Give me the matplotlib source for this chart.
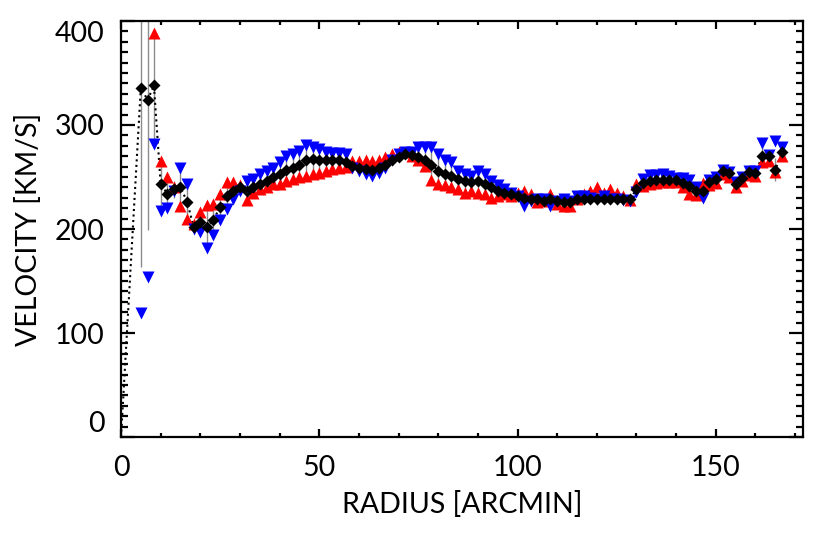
import numpy as np
import matplotlib
matplotlib.use("Agg")
import matplotlib.pyplot as plt
from matplotlib.ticker import MultipleLocator

# radius of each ring [arcmin]
radius = [5.0, 6.7, 8.3, 10.0, 11.7, 13.3, 15.0, 16.7, 18.3, 20.0,
          21.7, 23.3, 25.0, 26.7, 28.3, 30.0, 31.7, 33.3, 35.0, 36.7,
          38.3, 40.0, 41.7, 43.3, 45.0, 46.7, 48.3, 50.0, 51.7, 53.3,
          55.0, 56.7, 58.3, 60.0, 61.7, 63.3, 65.0, 66.7, 68.3, 70.0,
          71.7, 73.3, 75.0, 76.7, 78.3, 80.0, 81.7, 83.3, 85.0, 86.7,
          88.3, 90.0, 91.7, 93.3, 95.0, 96.7, 98.3, 100.0, 101.7, 103.3,
          105.0, 106.7, 108.3, 110.0, 111.7, 113.3, 115.0, 116.7, 118.3, 120.0,
          121.7, 123.3, 125.0, 126.7, 128.3, 130.0, 131.7, 133.3, 135.0, 136.7,
          138.3, 140.0, 141.7, 143.3, 145.0, 146.7, 148.3, 150.0, 151.7, 153.3,
          155.0, 156.7, 158.3, 160.0, 161.7, 163.3, 165.0, 166.7]

# both sides combined (black diamonds)
vel_mean = [336, 324, 338, 243, 234, 238, 240, 226, 202, 207,
            202, 209, 221, 232, 237, 240, 237, 240, 243, 246,
            250, 253, 257, 259, 262, 266, 267, 266, 266, 266,
            266, 264, 261, 259, 258, 257, 259, 262, 266, 269,
            272, 271, 269, 266, 262, 256, 253, 251, 248, 246,
            245, 246, 243, 240, 237, 235, 234, 232, 230, 229,
            229, 227, 229, 227, 226, 226, 229, 229, 229, 229,
            229, 229, 229, 229, 229, 238, 244, 246, 247, 247,
            247, 247, 244, 241, 237, 237, 245, 248, 256, 254,
            243, 249, 255, 254, 270, 270, 257, 274]

vel_err = [173, 125, 51, 24, 15, 8, 19, 17, 5, 10,
           21, 15, 13, 13, 8, 3, 9, 7, 8, 8,
           8, 10, 12, 12, 12, 15, 13, 12, 9, 8,
           7, 6, 3, 5, 7, 7, 6, 5, 3, 2,
           2, 2, 7, 9, 16, 15, 12, 12, 9, 9,
           7, 11, 10, 8, 5, 2, 2, 2, 8, 4,
           2, 1, 6, 2, 4, 3, 2, 1, 4, 6,
           2, 5, 3, 2, 1, 4, 4, 5, 4, 4,
           3, 2, 5, 7, 4, 7, 3, 3, 2, 3,
           3, 2, 2, 3, 10, 3, 11, 5]

# approaching side (red) and receding side (blue)
vel_red = [np.nan, np.nan, 388, 265, 250, 240, 222, 210, 205, 216,
           223, 224, 234, 245, 245, 242, 228, 235, 238, 240,
           243, 243, 246, 248, 250, 251, 253, 254, 256, 258,
           259, 260, 265, 265, 266, 265, 266, 269, 272, 274,
           274, 270, 266, 261, 247, 243, 242, 240, 238, 235,
           237, 235, 234, 230, 232, 234, 232, 235, 237, 234,
           226, 227, 234, 224, 222, 222, 229, 234, 237, 240,
           235, 238, 235, 232, 228, 243, 241, 243, 244, 245,
           245, 245, 240, 234, 233, 244, 242, 244, 253, 250,
           240, 246, 252, 251, 264, 265, 255, 270]

vel_blue = [119, 154, 282, 217, 220, 237, 259, 243, 200, 197,
            182, 194, 209, 219, 229, 237, 246, 248, 253, 256,
            259, 264, 270, 272, 275, 281, 279, 277, 274, 273,
            273, 272, 259, 256, 253, 251, 254, 259, 266, 272,
            274, 274, 279, 279, 279, 272, 266, 264, 256, 253,
            251, 256, 253, 246, 242, 238, 235, 232, 222, 227,
            229, 229, 222, 227, 229, 227, 232, 232, 230, 229,
            232, 229, 229, 228, 227, 236, 248, 252, 252, 253,
            251, 249, 249, 247, 240, 230, 247, 250, 257, 255,
            245, 250, 256, 256, 283, 271, 285, 279]

# the dotted curve starts at the centre
centre_r = 0.0
centre_v = 0.0

plt.rcParams['font.family'] = ['Lato', 'DejaVu Sans']

fig = plt.figure(figsize=(8.3, 5.34), dpi=100)
ax = fig.add_axes([0.1458, 0.1816, 0.8217, 0.7791])

r = np.array(radius)
vm = np.array(vel_mean, dtype=float)
ve = np.array(vel_err, dtype=float)

ax.vlines(r, vm - ve, vm + ve, color='#8c8c8c', lw=1.0, zorder=1)
ax.plot([centre_r] + radius, [centre_v] + vel_mean, ls=':', color='black',
        lw=1.5, zorder=2)
ax.plot(radius, vel_red, ls='none', marker='^', ms=9, color='#ff0000',
        mec='none', zorder=3)
ax.plot(radius, vel_blue, ls='none', marker='v', ms=9, color='#0000ff',
        mec='none', zorder=3)
ax.plot(radius, vel_mean, ls='none', marker='D', ms=6.5, color='black',
        mec='none', zorder=4)

ax.set_xlim(0, 172)
ax.set_ylim(0, 400)

ax.xaxis.set_major_locator(MultipleLocator(50))
ax.xaxis.set_minor_locator(MultipleLocator(10))
ax.yaxis.set_major_locator(MultipleLocator(100))
ax.yaxis.set_minor_locator(MultipleLocator(10))

ax.tick_params(axis='both', which='both', direction='in', top=True, right=True,
               width=1.6, colors='black')
ax.tick_params(axis='x', which='major', length=6, pad=13, labelsize=20.5)
ax.tick_params(axis='x', which='minor', length=3)
ax.tick_params(axis='y', which='major', length=10, pad=12, labelsize=20.5)
ax.tick_params(axis='y', which='minor', length=5)
for s in ax.spines.values():
    s.set_linewidth(1.6)

ax.set_yticks([0, 100, 200, 300, 400])
for lab in ax.get_yticklabels():
    if lab.get_text() == '400':
        lab.set_va('top')
    elif lab.get_text() == '0':
        lab.set_va('bottom')

ax.set_xlabel('RADIUS [ARCMIN]', fontsize=20.5, labelpad=7)
ax.set_ylabel('VELOCITY [KM/S]', fontsize=20.5, labelpad=9)

fig.savefig('out.png', dpi=100)
